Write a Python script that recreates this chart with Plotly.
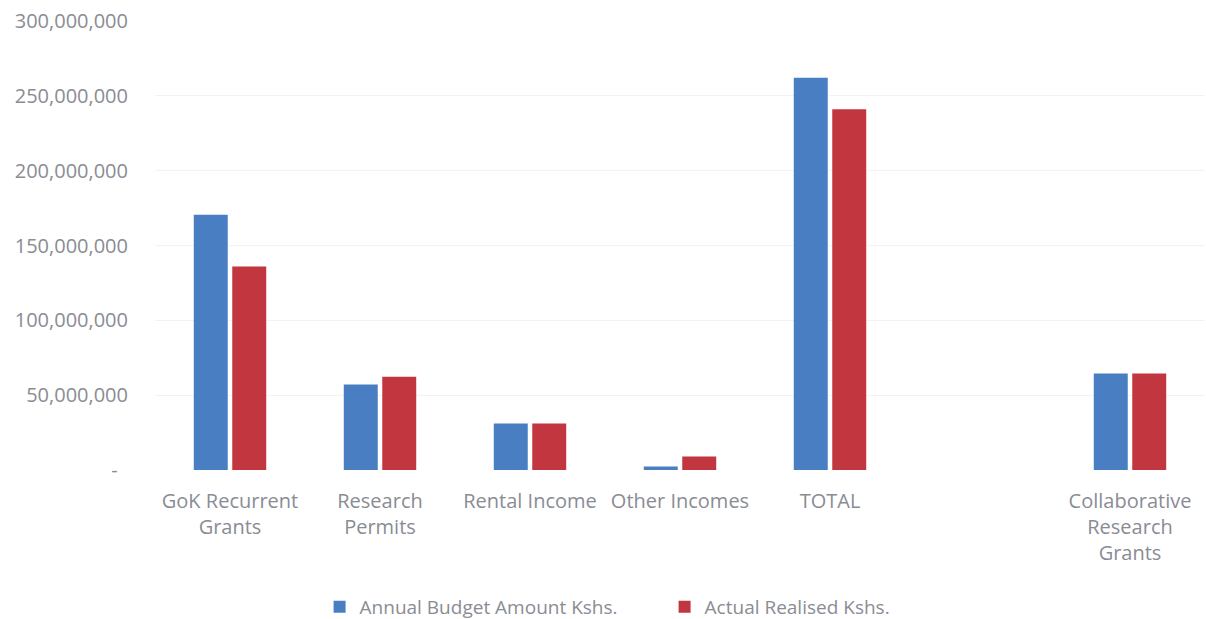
import plotly.graph_objects as go

# Income sources (an empty slot separates TOTAL from the collaborative grants)
categories = ["GoK Recurrent<br>Grants", "Research<br>Permits", "Rental Income",
              "Other Incomes", "TOTAL", " ", "Collaborative<br>Research<br>Grants"]
budget = [170_500_000, 57_100_000, 31_000_000, 2_300_000, 262_000_000, None, 64_500_000]
actual = [136_000_000, 62_300_000, 31_000_000, 9_100_000, 241_000_000, None, 64_500_000]

y_ticks = [0, 50_000_000, 100_000_000, 150_000_000, 200_000_000, 250_000_000, 300_000_000]
y_tick_labels = ["-  ", "50,000,000", "100,000,000", "150,000,000",
                 "200,000,000", "250,000,000", "300,000,000"]

BLUE = "#4a7ec2"
RED = "#c2373f"
TEXT = "#8a8c94"
FONT = "Open Sans"

fig = go.Figure()
fig.add_trace(go.Bar(x=categories, y=budget, name="Annual Budget Amount Kshs.",
                     marker=dict(color=BLUE, line_width=0)))
fig.add_trace(go.Bar(x=categories, y=actual, name="Actual Realised Kshs.",
                     marker=dict(color=RED, line_width=0)))

fig.update_layout(
    width=1206, height=619,
    margin=dict(l=155, r=1, t=21, b=149),
    paper_bgcolor="white", plot_bgcolor="white",
    barmode="group", bargap=0.487, bargroupgap=0.117,
    font=dict(family=FONT, color=TEXT, size=20),
    showlegend=True,
    legend=dict(orientation="h", xref="container", yref="container",
                x=0.265, xanchor="left", y=1 - 607 / 619, yanchor="middle",
                font=dict(size=19, color=TEXT), itemwidth=30,
                entrywidth=300, traceorder="normal"),
)
fig.update_xaxes(type="category", showgrid=False, showline=False, zeroline=False,
                 ticks="", tickfont=dict(size=20, color=TEXT), ticklabelstandoff=17)
fig.update_yaxes(range=[0, 300_000_000], tickvals=y_ticks, ticktext=y_tick_labels,
                 showgrid=True, gridcolor="#f3f3f3", gridwidth=1,
                 zeroline=False, showline=False, ticks="",
                 tickfont=dict(size=20, color=TEXT), ticklabelstandoff=26)

fig.write_html("out.html")
